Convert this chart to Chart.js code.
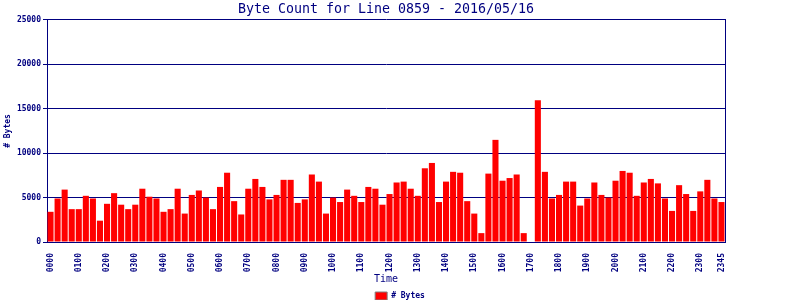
<!DOCTYPE html>
<html>
<head>
<meta charset="utf-8">
<script src="https://cdn.jsdelivr.net/npm/chart.js@4/dist/chart.umd.min.js"></script>
<style>
  html, body { margin: 0; padding: 0; background: #fff; }
  #wrap { width: 800px; height: 300px; }
</style>
</head>
<body>
<div id="wrap"><canvas id="myChart" width="800" height="300"></canvas></div>
<script>
// 15분 간격 시간 라벨 (0000 ~ 2345)
const hours = ["00","01","02","03","04","05","06","07","08","09","10","11",
               "12","13","14","15","16","17","18","19","20","21","22","23"];
const minutes = ["00", "15", "30", "45"];
const timeLabels = [];
hours.forEach(h => minutes.forEach(m => timeLabels.push(h + m)));

// 구간별 바이트 수
const byteCounts = [
  3400, 4900, 5900, 3700, 3700, 5200, 4900, 2400,
  4300, 5500, 4200, 3700, 4200, 6000, 5100, 4900,
  3400, 3700, 6000, 3200, 5300, 5800, 5000, 3700,
  6200, 7800, 4600, 3100, 6000, 7100, 6200, 4800,
  5300, 7000, 7000, 4400, 4800, 7600, 6800, 3200,
  5000, 4500, 5900, 5200, 4500, 6200, 6000, 4200,
  5400, 6700, 6800, 6000, 5200, 8300, 8900, 4500,
  6800, 7900, 7800, 4600, 3200, 1000, 7700, 11500,
  6900, 7200, 7600, 1000, 0, 15950, 7900, 4900,
  5300, 6800, 6800, 4100, 4900, 6700, 5300, 5000,
  6900, 8000, 7800, 5200, 6700, 7100, 6600, 4900,
  3500, 6400, 5400, 3500, 5700, 7000, 4900, 4500
];

const yTicks = [0, 5000, 10000, 15000, 20000, 25000];

const NAVY = "#000080";
const MONO = "'DejaVu Sans Mono', 'Liberation Mono', monospace";

const ctx = document.getElementById("myChart");
new Chart(ctx, {
  type: "bar",
  data: {
    labels: timeLabels,
    datasets: [{
      label: "# Bytes",
      data: byteCounts,
      backgroundColor: "#ff0000",
      borderWidth: 0,
      barPercentage: 0.86,
      categoryPercentage: 1.0
    }]
  },
  options: {
    responsive: false,
    animation: false,
    // 범례 아래 여백(+10)을 캔버스 밖으로 밀어냄
    layout: { padding: { left: 0, right: 0, top: 0, bottom: -10 } },
    plugins: {
      title: {
        display: true,
        fullSize: false,
        text: "Byte Count for Line 0859 - 2016/05/16",
        color: NAVY,
        font: { family: MONO, size: 13.3, weight: "normal" },
        padding: { top: 2, bottom: 2 }
      },
      legend: {
        position: "bottom",
        labels: {
          color: NAVY,
          boxWidth: 12,
          boxHeight: 8,
          padding: 1,
          font: { family: MONO, size: 8, weight: "bold" },
          // 범례 상자 테두리는 회색
          generateLabels: chart =>
            Chart.defaults.plugins.legend.labels.generateLabels(chart)
              .map(l => Object.assign(l, { strokeStyle: "#808080", lineWidth: 1 }))
        }
      },
      tooltip: { enabled: false }
    },
    scales: {
      x: {
        grid: { display: false },
        border: { color: NAVY, width: 1 },
        ticks: {
          autoSkip: false,
          minRotation: 90,
          maxRotation: 90,
          padding: 3,
          color: NAVY,
          font: { family: MONO, size: 8, weight: "bold" },
          callback: function (v, i) {
            return (i % 4 === 0 || i === timeLabels.length - 1) ? this.getLabelForValue(v) : "";
          }
        },
        title: {
          display: true,
          text: "Time",
          color: NAVY,
          font: { family: MONO, size: 10 },
          padding: { top: 0, bottom: 6 }
        },
        afterFit: scale => { scale.height = 49; }
      },
      y: {
        min: 0,
        max: 25000,
        afterBuildTicks: scale => { scale.ticks = yTicks.map(v => ({ value: v })); },
        grid: { color: NAVY, lineWidth: 1, tickLength: 4 },
        border: { color: NAVY, width: 1 },
        ticks: {
          padding: 2,
          color: NAVY,
          font: { family: MONO, size: 8, weight: "bold" },
          callback: v => String(v)
        },
        title: {
          display: true,
          text: "# Bytes",
          color: NAVY,
          font: { family: MONO, size: 8, weight: "bold" },
          padding: { top: 3, bottom: 0 }
        },
        afterFit: scale => { scale.width = 47; }
      },
      // 오른쪽 테두리용 축
      y2: {
        position: "right",
        min: 0,
        max: 25000,
        grid: { drawOnChartArea: false, drawTicks: false },
        border: { color: NAVY, width: 1 },
        ticks: { display: false },
        afterFit: scale => { scale.width = 75; }
      }
    }
  }
});
</script>
</body>
</html>
